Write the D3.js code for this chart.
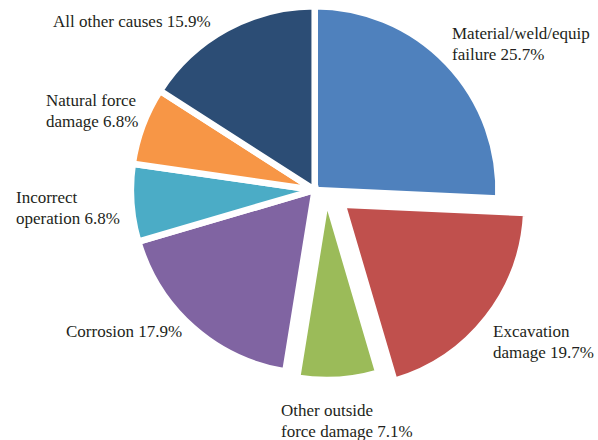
<!DOCTYPE html>
<html>
<head>
<meta charset="utf-8">
<script src="https://cdn.jsdelivr.net/npm/d3@7/dist/d3.min.js"></script>
<style>
  html, body { margin: 0; padding: 0; background: #fff; }
  svg { display: block; }
  .lbl { font-family: "Liberation Serif", "DejaVu Serif", "Times New Roman", serif; font-size: 17px; fill: #231F20; }
</style>
</head>
<body>
<script>
// ---- data ----
const categories = [
  "Material/weld/equip failure",
  "Excavation damage",
  "Other outside force damage",
  "Corrosion",
  "Incorrect operation",
  "Natural force damage",
  "All other causes"
];
const values = [25.7, 19.7, 7.1, 17.9, 6.8, 6.8, 15.9];
const labelLines = [
  ["Material/weld/equip", "failure 25.7%"],
  ["Excavation", "damage 19.7%"],
  ["Other outside", "force damage 7.1%"],
  ["Corrosion 17.9%"],
  ["Incorrect", "operation 6.8%"],
  ["Natural force", "damage 6.8%"],
  ["All other causes 15.9%"]
];

// ---- style / layout ----
const colors = ["#4F81BD", "#C0504D", "#9BBB59", "#8064A2", "#4BACC6", "#F79646", "#2C4D75"];
const explodeDist = [0, 31.5, 13.3, 0, 0, 0, 0];
const explodeDir = 117.7 * Math.PI / 180;
const labelAnchor = [
  [452, 39], [493, 337], [281, 416], [66, 337], [16, 203], [46, 106], [53, 27]
];
const W = 598, H = 440;
const cx = 314.7, cy = 190;
const R = 183.8;
const gap = 6.5;
const lineH = 20.5;

const svg = d3.select("body").append("svg")
  .attr("width", W).attr("height", H);
svg.append("rect").attr("width", W).attr("height", H).attr("fill", "#fff");

const pie = d3.pie().sort(null).value(d => d.v).startAngle(0).endAngle(2 * Math.PI);
const arc = d3.arc().innerRadius(0).outerRadius(R);
const data = categories.map((c, i) => ({ c, v: values[i], i }));
const arcs = pie(data);

const g = svg.append("g").attr("transform", `translate(${cx},${cy})`);
g.selectAll("path").data(arcs).enter().append("path")
  .attr("d", arc)
  .attr("fill", d => colors[d.data.i])
  .attr("stroke", "#fff")
  .attr("stroke-width", gap)
  .attr("stroke-linejoin", "miter")
  .attr("transform", d => {
    const e = explodeDist[d.data.i];
    return `translate(${e * Math.sin(explodeDir)},${-e * Math.cos(explodeDir)})`;
  });

const labels = svg.append("g");
labelLines.forEach((lines, i) => {
  const t = labels.append("text").attr("class", "lbl")
    .attr("x", labelAnchor[i][0]).attr("y", labelAnchor[i][1]);
  lines.forEach((ln, k) => {
    t.append("tspan").attr("x", labelAnchor[i][0])
      .attr("y", labelAnchor[i][1] + k * lineH).text(ln);
  });
});
</script>
</body>
</html>
